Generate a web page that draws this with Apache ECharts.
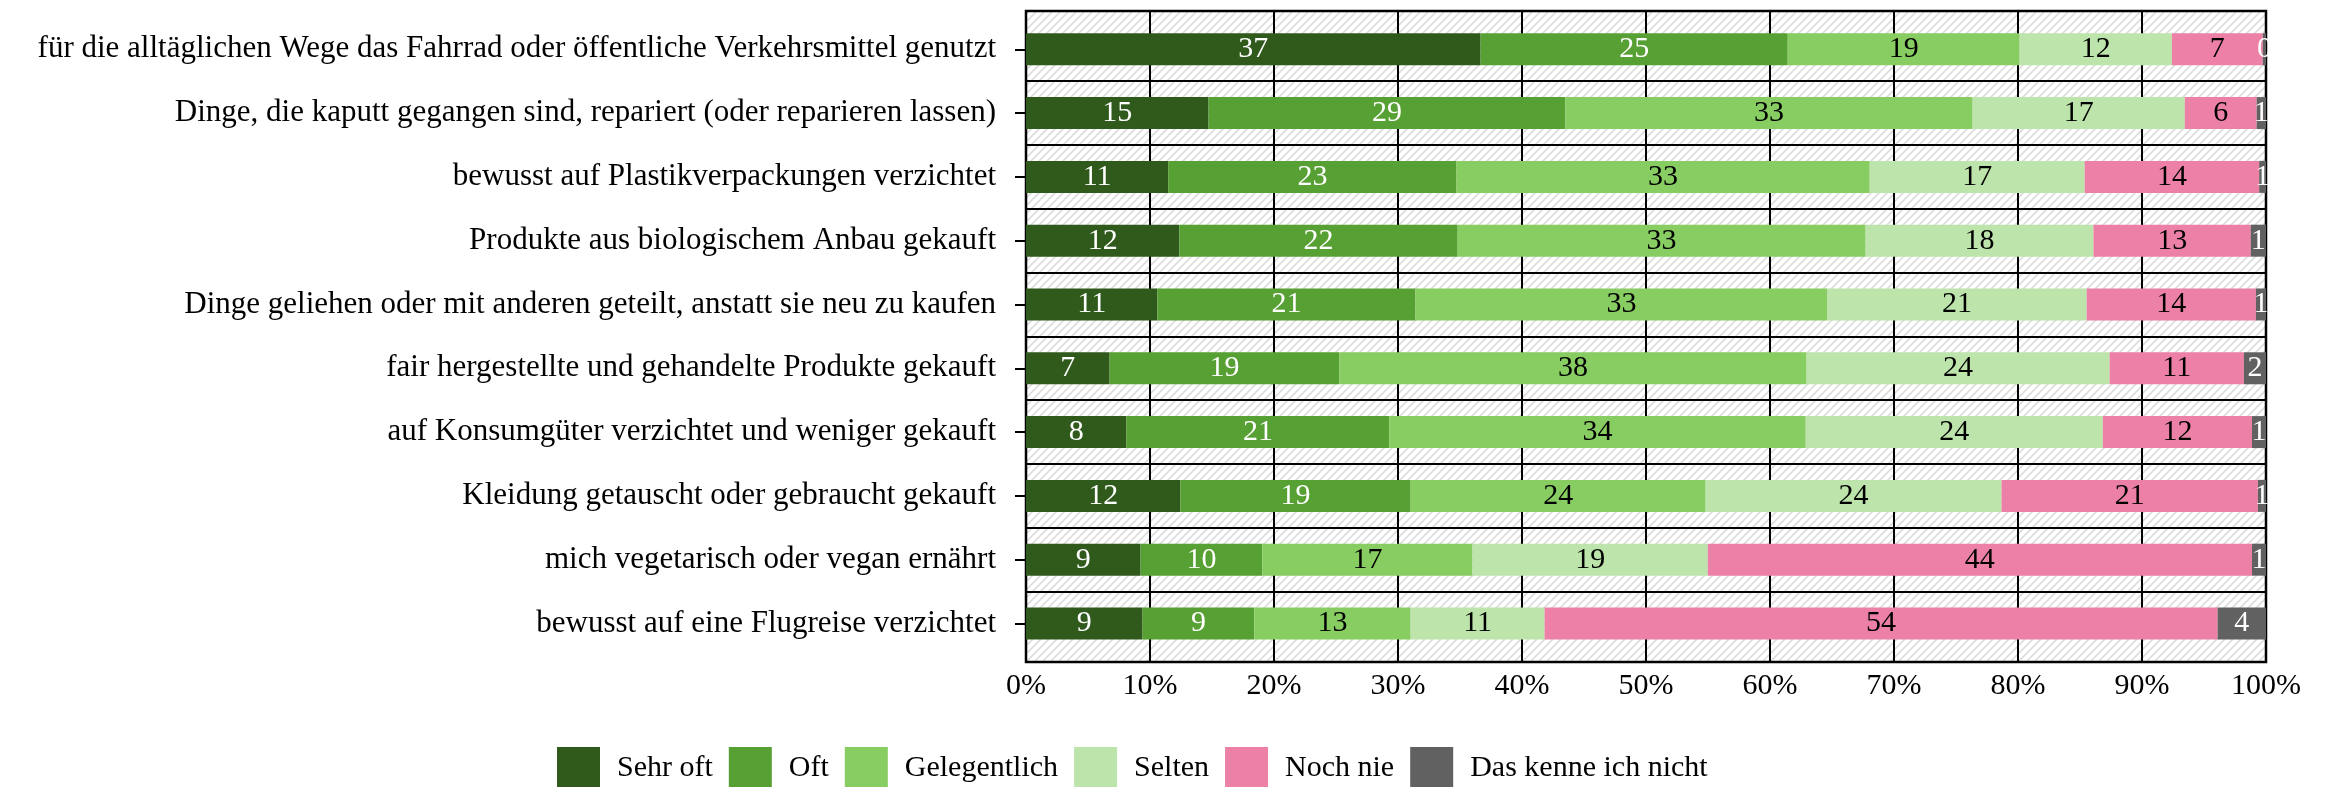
<!DOCTYPE html>
<html>
<head>
<meta charset="utf-8">
<script src="https://cdn.jsdelivr.net/npm/echarts@6/dist/echarts.min.js"></script>
<style>
  html, body { margin: 0; padding: 0; background: #fff; }
  #chart { width: 2329px; height: 787px; }
</style>
</head>
<body>
<div id="chart"></div>
<script>
// categories, top to bottom
const categories = [
  'für die alltäglichen Wege das Fahrrad oder öffentliche Verkehrsmittel genutzt',
  'Dinge, die kaputt gegangen sind, repariert (oder reparieren lassen)',
  'bewusst auf Plastikverpackungen verzichtet',
  'Produkte aus biologischem Anbau gekauft',
  'Dinge geliehen oder mit anderen geteilt, anstatt sie neu zu kaufen',
  'fair hergestellte und gehandelte Produkte gekauft',
  'auf Konsumgüter verzichtet und weniger gekauft',
  'Kleidung getauscht oder gebraucht gekauft',
  'mich vegetarisch oder vegan ernährt',
  'bewusst auf eine Flugreise verzichtet'
];

const seriesNames = ['Sehr oft', 'Oft', 'Gelegentlich', 'Selten', 'Noch nie', 'Das kenne ich nicht'];

// shares in percent
const sehrOft      = [36.66, 14.72, 11.47, 12.36, 10.60, 6.74, 8.10, 12.45, 9.24, 9.40];
const oft          = [24.77, 28.78, 23.25, 22.45, 20.81, 18.54, 21.20, 18.57, 9.82, 9.01];
const gelegentlich = [18.70, 32.84, 33.32, 32.90, 33.23, 37.67, 33.58, 23.79, 16.95, 12.61];
const selten       = [12.28, 17.11, 17.34, 18.38, 20.90, 24.44, 23.96, 23.86, 18.97, 10.80];
const nochNie      = [7.33, 5.80, 14.07, 12.68, 13.65, 10.83, 12.03, 20.68, 43.89, 54.28];
const kenneNicht   = [0.26, 0.75, 0.55, 1.23, 0.81, 1.78, 1.13, 0.65, 1.13, 3.90];

const xTicks = [0, 10, 20, 30, 40, 50, 60, 70, 80, 90, 100];

const colors = ['#2f5a1b', '#57a033', '#87cd62', '#bde4aa', '#ec80a6', '#616161'];
const labelColors = ['#fff', '#fff', '#000', '#000', '#000', '#fff'];
const seriesData = [sehrOft, oft, gelegentlich, selten, nochNie, kenneNicht];

const FONT = '"Liberation Serif", "DejaVu Serif", serif';

// hatched panel background
function makeHatch() {
  const c = document.createElement('canvas');
  c.width = 8; c.height = 8;
  const ctx = c.getContext('2d');
  ctx.fillStyle = '#fff';
  ctx.fillRect(0, 0, 8, 8);
  ctx.strokeStyle = '#dcdcdc';
  ctx.lineWidth = 1.6;
  ctx.beginPath();
  ctx.moveTo(0, 8); ctx.lineTo(8, 0);
  ctx.moveTo(-2, 2); ctx.lineTo(2, -2);
  ctx.moveTo(6, 10); ctx.lineTo(10, 6);
  ctx.stroke();
  return c;
}

const chart = echarts.init(document.getElementById('chart'));

const panel = { left: 1026, top: 11, width: 1240, height: 651 };
const band = 63.8;
const barGrid = { left: 1026, top: 11 + 0.1 * band, width: 1240, height: 10 * band };

chart.setOption({
  animation: false,
  textStyle: { fontFamily: FONT },
  grid: [
    Object.assign({ show: true, backgroundColor: { image: makeHatch(), repeat: 'repeat' },
      borderColor: '#000', borderWidth: 2.5, z: 0 }, panel),
    Object.assign({ show: false }, barGrid)
  ],
  xAxis: [
    {
      gridIndex: 0, type: 'value', min: xTicks[0], max: xTicks[xTicks.length - 1], interval: 10,
      axisLine: { show: false }, axisTick: { show: false },
      splitLine: { show: true, lineStyle: { color: '#000', width: 2 } },
      axisLabel: { formatter: '{value}%', fontSize: 30, color: '#000', margin: 9, fontFamily: FONT }
    },
    { gridIndex: 1, type: 'value', min: 0, max: 100, show: false }
  ],
  yAxis: [
    { gridIndex: 0, type: 'value', show: false, min: 0, max: 1 },
    {
      gridIndex: 1, type: 'category', data: categories, inverse: true,
      axisLine: { show: false },
      axisTick: { show: true, alignWithLabel: true, length: 11, lineStyle: { color: '#000', width: 2 } },
      splitLine: { show: true, showMinLine: false, showMaxLine: false, lineStyle: { color: '#000', width: 2 } },
      axisLabel: { fontSize: 31, color: '#000', margin: 30, fontFamily: FONT }
    }
  ],
  legend: {
    data: seriesNames,
    left: 557, top: 747, padding: 0,
    icon: 'rect', itemWidth: 43, itemHeight: 43, itemGap: 16,
    textStyle: { fontSize: 30, color: '#000', fontFamily: FONT, padding: [0, 0, 0, 12] }
  },
  series: seriesNames.map((name, i) => ({
    name,
    type: 'bar',
    stack: 'total',
    xAxisIndex: 1,
    yAxisIndex: 1,
    barWidth: 32,
    itemStyle: { color: colors[i] },
    label: {
      show: true,
      position: 'inside',
      color: labelColors[i],
      fontSize: 30,
      fontFamily: FONT,
      formatter: p => Math.round(p.value)
    },
    data: seriesData[i]
  }))
});
</script>
</body>
</html>
